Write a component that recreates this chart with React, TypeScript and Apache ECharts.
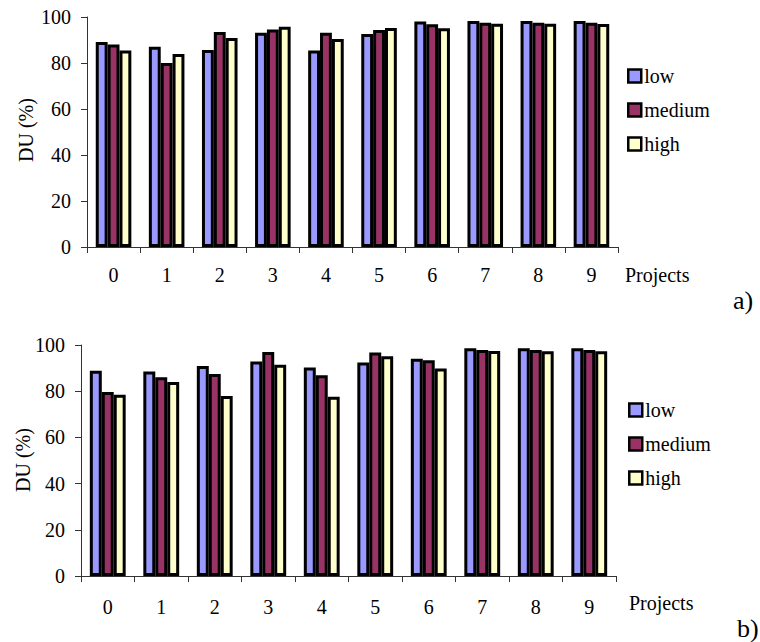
import React, { useEffect, useRef } from "react";
import * as echarts from "echarts";

const projects = ["0", "1", "2", "3", "4", "5", "6", "7", "8", "9"];
const seriesNames = ["low", "medium", "high"];
const colors = ["#9999FF", "#993366", "#FFFFCC"];
const yTicks = [0, 20, 40, 60, 80, 100];

// panel a)
const lowA = [89.1, 87.1, 85.7, 93.2, 85.4, 92.6, 98.0, 98.3, 98.3, 98.3];
const mediumA = [88.0, 80.0, 93.5, 94.6, 93.2, 94.3, 96.8, 97.5, 97.5, 97.5];
const highA = [85.4, 83.9, 90.9, 95.8, 90.4, 95.2, 95.1, 97.1, 97.1, 97.0];

// panel b)
const lowB = [88.9, 88.5, 90.9, 92.9, 90.3, 92.4, 94.1, 98.6, 98.6, 98.6];
const mediumB = [79.7, 86.0, 87.4, 97.0, 86.9, 96.8, 93.4, 97.8, 97.8, 97.8];
const highB = [78.5, 84.0, 77.9, 91.5, 77.6, 95.1, 89.8, 97.4, 97.3, 97.3];

const FONT = "Liberation Serif";

export default function App() {
  const ref = useRef<HTMLDivElement>(null);

  useEffect(() => {
    if (!ref.current) return;
    const chart = echarts.init(ref.current, undefined, { renderer: "svg" });

    const panels = [
      { data: [lowA, mediumA, highA], grid: { left: 87, top: 17, width: 531, height: 230 }, labelMargin: 18 },
      { data: [lowB, mediumB, highB], grid: { left: 81, top: 345, width: 535, height: 231 }, labelMargin: 21 },
    ];

    const axisLine = { show: true, lineStyle: { color: "#333", width: 1 } };
    const txt = (text: string, x: number, y: number, size: number, rot = 0, align = "left") => ({
      type: "text",
      x,
      y,
      rotation: rot,
      style: { text, fontFamily: FONT, fontSize: size, fill: "#000", align, verticalAlign: "middle" },
    });

    const option: any = {
      animation: false,
      backgroundColor: "#fff",
      textStyle: { fontFamily: FONT },
      grid: panels.map((p) => ({ ...p.grid, containLabel: false })),
      xAxis: panels.map((p, i) => ({
        type: "category",
        gridIndex: i,
        data: projects,
        boundaryGap: true,
        axisLine,
        axisTick: { show: true, length: 6, inside: false, lineStyle: { color: "#333" }, alignWithLabel: false },
        axisLabel: { color: "#000", fontFamily: FONT, fontSize: 20, margin: p.labelMargin, interval: 0 },
        splitLine: { show: false },
      })),
      yAxis: panels.map((p, i) => ({
        type: "value",
        gridIndex: i,
        min: yTicks[0],
        max: yTicks[yTicks.length - 1],
        interval: 20,
        axisLine,
        axisTick: { show: true, length: 6, lineStyle: { color: "#333" } },
        axisLabel: { color: "#000", fontFamily: FONT, fontSize: 20, margin: 16 },
        splitLine: { show: false },
      })),
      legend: [
        { left: 622, top: 61 },
        { left: 623, top: 395 },
      ].map((pos) => ({
        ...pos,
        orient: "vertical",
        data: seriesNames,
        icon: "rect",
        itemWidth: 13,
        itemHeight: 13,
        itemGap: 14,
        selectedMode: false,
        itemStyle: { borderColor: "#000", borderWidth: 2.5 },
        textStyle: { color: "#000", fontFamily: FONT, fontSize: 20, lineHeight: 20, padding: [0, 0, 0, -2] },
      })),
      series: panels.flatMap((p, i) =>
        seriesNames.map((name, k) => ({
          type: "bar",
          name,
          xAxisIndex: i,
          yAxisIndex: i,
          data: p.data[k],
          barGap: "0%",
          barCategoryGap: "33%",
          itemStyle: { color: colors[k], borderColor: "#000000", borderWidth: 3 },
        }))
      ),
      graphic: [
        txt("DU (%)", 26, 130, 20, Math.PI / 2, "center"),
        txt("DU (%)", 23, 460, 20, Math.PI / 2, "center"),
        txt("Projects", 625, 275, 20),
        txt("Projects", 629, 603, 20),
        txt("a)", 733, 300, 26),
        txt("b)", 737, 628, 26),
      ],
    };

    chart.setOption(option);
    return () => chart.dispose();
  }, []);

  return <div ref={ref} style={{ position: "fixed", left: 0, top: 0, width: 760, height: 642 }} />;
}
